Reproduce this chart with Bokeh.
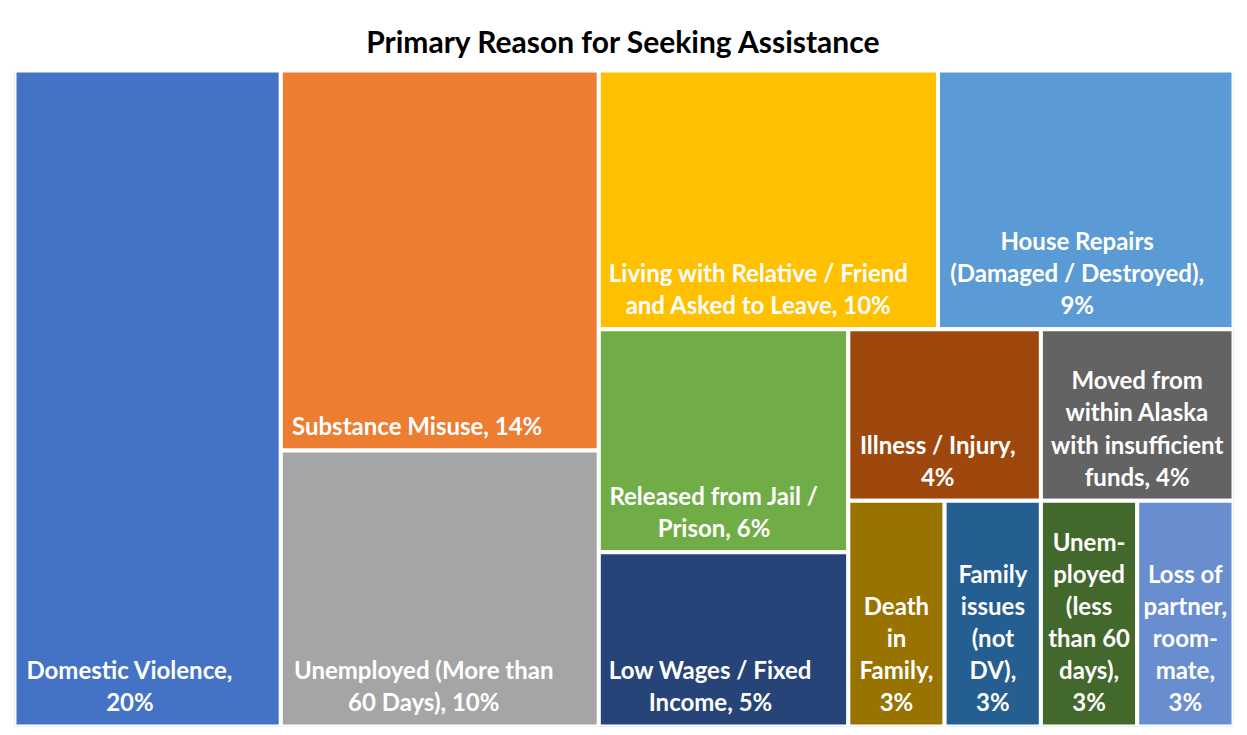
from bokeh.plotting import figure
from bokeh.models import ColumnDataSource, Range1d
from bokeh.core.properties import value
from bokeh.embed import file_html
from bokeh.resources import INLINE

# ---------------- data ----------------
title_text = "Primary Reason for Seeking Assistance"
categories = [
    "Domestic Violence", "Substance Misuse", "Unemployed (More than 60 Days)",
    "Living with Relative / Friend and Asked to Leave", "House Repairs (Damaged / Destroyed)",
    "Released from Jail / Prison", "Low Wages / Fixed Income", "Illness / Injury",
    "Moved from within Alaska with insufficient funds", "Death in Family",
    "Family issues (not DV)", "Unemployed (less than 60 days)", "Loss of partner, roommate",
]
# estimated share of all clients (%)
values = [20.1, 13.9, 10.1, 10.1, 8.8, 6.4, 5.0, 3.8, 3.8, 2.5, 2.5, 2.5, 2.5]
pct_labels = ["20%", "14%", "10%", "10%", "9%", "6%", "5%", "4%", "4%", "3%", "3%", "3%", "3%"]
wrapped_names = [
    "Domestic Violence,\n", "Substance Misuse, ", "Unemployed (More than\n60 Days), ",
    "Living with Relative / Friend\nand Asked to Leave, ", "House Repairs\n(Damaged / Destroyed),\n",
    "Released from Jail /\nPrison, ", "Low Wages / Fixed\nIncome, ", "Illness / Injury,\n",
    "Moved from\nwithin Alaska\nwith insufficient\nfunds, ", "Death\nin\nFamily,\n",
    "Family\nissues\n(not\nDV),\n", "Unem-\nployed\n(less\nthan 60\ndays),\n",
    "Loss of\npartner,\nroom-\nmate,\n",
]
colors = ["#4472C4", "#ED7D31", "#A5A5A5", "#FFC000", "#5B9BD5", "#70AD47", "#264478",
          "#9E480E", "#636363", "#997300", "#255E91", "#43682B", "#698ED0"]

# strip structure of the treemap (number of items per strip, orientation)
strip_sizes = [1, 2, 2, 2, 2, 4]
strip_orient = ["col", "col", "row", "col", "row", "row"]

# ---------------- layout ----------------
W, H = 1219.0, 656.0  # frame units == pixels
TOP = 62.0            # space for the title inside the frame
FS = 24               # label font size (px)
PAD = 10


def treemap(vals, sizes, orients, x0, y0, x1, y1):
    out = []
    i = 0
    for n, o in zip(sizes, orients):
        grp = vals[i:i + n]
        rem = sum(vals[i:])
        s = sum(grp)
        w, h = x1 - x0, y1 - y0
        if o == "col":
            cw = w * s / rem
            yy = y0
            for v in grp:
                hh = h * v / s
                out.append((x0, x0 + cw, yy, yy + hh))
                yy += hh
            x0 += cw
        else:
            rh = h * s / rem
            xx = x0
            for v in grp:
                ww = w * v / s
                out.append((xx, xx + ww, y0, y0 + rh))
                xx += ww
            y0 += rh
        i += n
    return out


# approximate advance widths (em) of Lato Bold, to place label blocks like Excel does
_w = {" ": .193, ",": .23, "/": .37, "(": .31, ")": .31, "%": .80, "-": .33, "A": .70,
      "D": .76, "F": .54, "H": .76, "I": .30, "J": .40, "L": .50, "M": .93, "P": .62,
      "R": .64, "S": .54, "U": .73, "V": .70, "W": 1.0, "a": .51, "b": .57, "c": .46,
      "d": .57, "e": .53, "f": .34, "g": .52, "h": .57, "i": .26, "j": .26, "k": .53,
      "l": .26, "m": .85, "n": .57, "o": .57, "p": .57, "r": .38, "s": .43, "t": .37,
      "u": .57, "v": .52, "w": .79, "x": .52, "y": .52}


def text_width(s):
    return max(sum(_w.get(c, .58) for c in line) for line in s.split("\n")) * FS


rects = treemap(values, strip_sizes, strip_orient, 0.0, 0.0, W, H)
left = [r[0] for r in rects]
right = [r[1] for r in rects]
top = [r[2] for r in rects]
bottom = [r[3] for r in rects]
labels = [n + p for n, p in zip(wrapped_names, pct_labels)]

cx = []
for l, r, lab in zip(left, right, labels):
    bw = text_width(lab)
    if bw + 2 * PAD + 2 < r - l:
        cx.append(l + 3 + PAD + bw / 2)
    else:
        cx.append((l + r) / 2)

src = ColumnDataSource(dict(left=left, right=right, top=top, bottom=bottom, color=colors,
                            cx=cx, by=bottom, label=labels, name=categories, value=values))

p = figure(width=1245, height=733, output_backend="svg", toolbar_location=None,
           x_range=Range1d(0, W), y_range=Range1d(H, -TOP),
           x_axis_location=None, y_axis_location=None,
           min_border_left=14, min_border_right=12, min_border_top=8, min_border_bottom=7)
p.outline_line_color = None
p.xgrid.visible = False
p.ygrid.visible = False
p.background_fill_color = "white"

p.quad(left="left", right="right", top="top", bottom="bottom", fill_color="color",
       line_color="white", line_width=4, source=src)

p.text(x="cx", y="by", text="label", source=src, text_color="white",
       text_font=value("Lato"), text_font_style="bold", text_font_size=f"{FS}px",
       text_align="center", text_baseline="bottom", text_line_height=1.11, y_offset=-10)

p.text(x=[W / 2], y=[-TOP / 2 + 1], text=[title_text], text_color="black",
       text_font=value("Lato"), text_font_style="bold", text_font_size="30px",
       text_align="center", text_baseline="middle")

open("out.html", "w").write(file_html(p, INLINE))
